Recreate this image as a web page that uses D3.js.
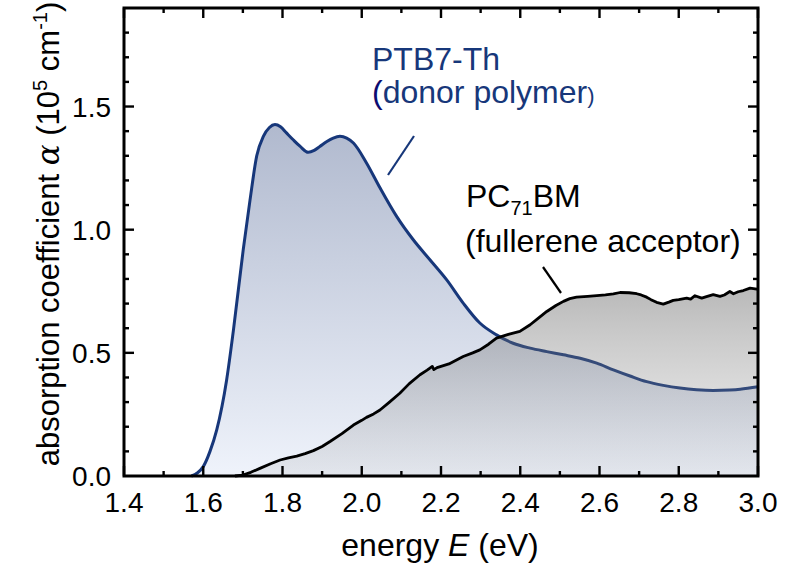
<!DOCTYPE html>
<html>
<head>
<meta charset="utf-8">
<script src="https://cdn.jsdelivr.net/npm/d3@7"></script>
<style>
    body { margin: 0; background: #fff; }
    text { font-family: "Liberation Sans", Arial, sans-serif; }
</style>
</head>
<body>
<svg id="chart-svg"></svg>
<script>
// PTB7-Th (donor polymer), energy in eV and alpha in 1e5 cm^-1
let donorE = [1.57, 1.585, 1.6, 1.617, 1.634, 1.659, 1.676, 1.701, 1.718, 1.735, 1.752, 1.767, 1.781, 1.795, 1.81, 1.827, 1.844, 1.865,
    1.88, 1.895, 1.912, 1.928, 1.945, 1.962, 1.979, 2.012, 2.046, 2.088, 2.13, 2.172, 2.214, 2.256, 2.298, 2.34, 2.382, 2.425,
    2.467, 2.509, 2.551, 2.593, 2.635, 2.677, 2.719, 2.761, 2.803, 2.845, 2.887, 2.929, 2.955, 3.0];
let donorA = [0, 0.012, 0.038, 0.1, 0.187, 0.39, 0.59, 0.92, 1.12, 1.30, 1.38, 1.415, 1.427, 1.418, 1.393, 1.365, 1.339, 1.314,
    1.322, 1.339, 1.358, 1.372, 1.379, 1.372, 1.352, 1.271, 1.17, 1.054, 0.959, 0.878, 0.797, 0.702, 0.621, 0.573, 0.539, 0.519,
    0.505, 0.492, 0.478, 0.458, 0.431, 0.406, 0.383, 0.368, 0.357, 0.35, 0.347, 0.349, 0.352, 0.362];

// PC71BM (fullerene acceptor)
let accE = [1.68, 1.70, 1.72, 1.743, 1.77, 1.794, 1.815, 1.836, 1.857, 1.878, 1.90, 1.92, 1.95, 1.979, 2.0, 2.012, 2.03, 2.046,
    2.07, 2.096, 2.12, 2.147, 2.165, 2.178, 2.182, 2.19, 2.22, 2.256, 2.28, 2.298, 2.32, 2.34, 2.37, 2.399, 2.425, 2.445, 2.467,
    2.49, 2.509, 2.525, 2.542, 2.57, 2.593, 2.615, 2.635, 2.652, 2.675, 2.694, 2.705, 2.719, 2.73, 2.744, 2.761, 2.775, 2.786,
    2.80, 2.82, 2.83, 2.841, 2.858, 2.87, 2.887, 2.904, 2.915, 2.929, 2.938, 2.95, 2.963, 2.98, 2.997, 3.0];
let accA = [0, 0.004, 0.015, 0.031, 0.05, 0.065, 0.074, 0.081, 0.091, 0.103, 0.12, 0.14, 0.172, 0.207, 0.226, 0.238, 0.252, 0.268,
    0.30, 0.336, 0.375, 0.411, 0.43, 0.445, 0.432, 0.44, 0.455, 0.485, 0.50, 0.512, 0.535, 0.56, 0.575, 0.587, 0.614, 0.64, 0.668,
    0.692, 0.709, 0.72, 0.726, 0.729, 0.732, 0.735, 0.739, 0.745, 0.744, 0.74, 0.735, 0.726, 0.716, 0.705, 0.698, 0.706, 0.713,
    0.716, 0.722, 0.718, 0.732, 0.722, 0.728, 0.736, 0.729, 0.735, 0.749, 0.74, 0.748, 0.753, 0.763, 0.759, 0.76];

let xMajor = [1.4, 1.6, 1.8, 2.0, 2.2, 2.4, 2.6, 2.8, 3.0];
let yMajor = [0.0, 0.5, 1.0, 1.5];

const width = 807, height = 573;
const navy = '#17377a';

const x = d3.scaleLinear().domain([1.4, 3.0]).range([124, 758]);
const y = d3.scaleLinear().domain([0, 1.9]).range([476, 8]);

window.addEventListener('load', function() {
    drawChart();
});

function drawChart()
{
    const svg = d3.select('#chart-svg')
        .attr('width', width)
        .attr('height', height);

    const defs = svg.append('defs');
    const blueGrad = defs.append('linearGradient')
        .attr('id', 'blueGrad')
        .attr('gradientUnits', 'userSpaceOnUse')
        .attr('x1', 0).attr('x2', 0)
        .attr('y1', y(1.43)).attr('y2', y(0));
    blueGrad.append('stop').attr('offset', 0).attr('stop-color', '#b0b9ce');
    blueGrad.append('stop').attr('offset', 1).attr('stop-color', '#eff3fb');

    const grayGrad = defs.append('linearGradient')
        .attr('id', 'grayGrad')
        .attr('gradientUnits', 'userSpaceOnUse')
        .attr('x1', 0).attr('x2', 0)
        .attr('y1', y(0.76)).attr('y2', y(0));
    grayGrad.append('stop').attr('offset', 0).attr('stop-color', '#606060').attr('stop-opacity', 0.44);
    grayGrad.append('stop').attr('offset', 1).attr('stop-color', '#969696').attr('stop-opacity', 0.14);

    const donor = donorE.map((e, i) => [e, donorA[i]]);
    const acc = accE.map((e, i) => [e, accA[i]]);

    const area = d3.area()
        .x(d => x(d[0]))
        .y0(y(0))
        .y1(d => y(d[1]));
    const line = d3.line()
        .x(d => x(d[0]))
        .y(d => y(d[1]));

    // donor first, the acceptor fill sits over it
    svg.append('path')
        .attr('d', area.curve(d3.curveMonotoneX)(donor))
        .style('fill', 'url(#blueGrad)');
    svg.append('path')
        .attr('d', line.curve(d3.curveMonotoneX)(donor))
        .style('fill', 'none').style('stroke', navy).style('stroke-width', 3);

    svg.append('path')
        .attr('d', area.curve(d3.curveLinear)(acc))
        .style('fill', 'url(#grayGrad)');
    svg.append('path')
        .attr('d', line.curve(d3.curveLinear)(acc))
        .style('fill', 'none').style('stroke', '#000').style('stroke-width', 2.8)
        .style('stroke-linejoin', 'round');

    drawAxes(svg);
    drawLabels(svg);
}

function drawAxes(svg)
{
    const g = svg.append('g');
    const xMinor = d3.range(1.5, 3.0, 0.2);
    const yMinor = d3.range(0.1, 1.9, 0.1).filter(v => Math.abs(v * 2 - Math.round(v * 2)) > 0.01);
    const yAll = d3.range(0.5, 1.9, 0.5);

    // ticks go inward on all four sides
    const addX = (vals, len) => {
        vals.forEach(v => {
            g.append('line').attr('x1', x(v)).attr('x2', x(v)).attr('y1', y(0)).attr('y2', y(0) - len);
            g.append('line').attr('x1', x(v)).attr('x2', x(v)).attr('y1', y(1.9)).attr('y2', y(1.9) + len);
        });
    };
    const addY = (vals, len) => {
        vals.forEach(v => {
            g.append('line').attr('x1', x(1.4)).attr('x2', x(1.4) + len).attr('y1', y(v)).attr('y2', y(v));
            g.append('line').attr('x1', x(3.0)).attr('x2', x(3.0) - len).attr('y1', y(v)).attr('y2', y(v));
        });
    };
    addX(xMajor, 10);
    addX(xMinor, 5);
    addY(yAll, 10);
    addY(yMinor, 5);
    g.selectAll('line').style('stroke', '#000').style('stroke-width', 2.4);

    g.append('rect')
        .attr('x', x(1.4)).attr('y', y(1.9))
        .attr('width', x(3.0) - x(1.4)).attr('height', y(0) - y(1.9))
        .style('fill', 'none').style('stroke', '#000').style('stroke-width', 3);

    g.selectAll('text.xtick')
        .data(xMajor)
        .join('text')
            .classed('xtick', true)
            .attr('x', d => x(d))
            .attr('y', 512)
            .attr('text-anchor', 'middle')
            .style('font-size', '28px')
            .text(d => d.toFixed(1));
    g.selectAll('text.ytick')
        .data(yMajor)
        .join('text')
            .classed('ytick', true)
            .attr('x', 111)
            .attr('y', d => y(d) + 10)
            .attr('text-anchor', 'end')
            .style('font-size', '28px')
            .text(d => d.toFixed(1));
}

function drawLabels(svg)
{
    const xl = svg.append('text')
        .attr('x', 440).attr('y', 556)
        .attr('text-anchor', 'middle')
        .style('font-size', '32px');
    xl.append('tspan').text('energy ');
    xl.append('tspan').style('font-style', 'italic').text('E');
    xl.append('tspan').text(' (eV)');

    const yl = svg.append('text')
        .attr('transform', 'translate(59,234) rotate(-90)')
        .attr('text-anchor', 'middle')
        .style('font-size', '31px');
    yl.append('tspan').text('absorption coefficient ');
    yl.append('tspan').style('font-style', 'italic').style('font-family', '"DejaVu Serif", serif').text('α');
    yl.append('tspan').text(' (10');
    yl.append('tspan').attr('dy', -12).style('font-size', '20px').text('5');
    yl.append('tspan').attr('dy', 12).text(' cm');
    yl.append('tspan').attr('dy', -12).style('font-size', '20px').text('-1');
    yl.append('tspan').attr('dy', 12).text(')');

    // donor annotation
    svg.append('text')
        .attr('x', 372).attr('y', 70)
        .style('font-size', '32px').style('fill', navy)
        .text('PTB7-Th');
    const d2 = svg.append('text')
        .attr('x', 372).attr('y', 103)
        .style('font-size', '32px').style('fill', navy);
    d2.append('tspan').style('fill', '#0c0c70').text('(');
    d2.append('tspan').text('donor polymer');
    d2.append('tspan').style('font-size', '22px').text(')');
    svg.append('line')
        .attr('x1', 388).attr('y1', 175).attr('x2', 414).attr('y2', 136)
        .style('stroke', navy).style('stroke-width', 2.2);

    // acceptor annotation
    const a1 = svg.append('text')
        .attr('x', 466).attr('y', 207)
        .style('font-size', '32px');
    a1.append('tspan').text('PC');
    a1.append('tspan').attr('dy', 8).style('font-size', '20px').text('71');
    a1.append('tspan').attr('dy', -8).text('BM');
    svg.append('text')
        .attr('x', 465).attr('y', 252)
        .style('font-size', '32px')
        .text('(fullerene acceptor)');
    svg.append('line')
        .attr('x1', 543).attr('y1', 267).attr('x2', 561).attr('y2', 293)
        .style('stroke', '#000').style('stroke-width', 2.2);
}
</script>
</body>
</html>
